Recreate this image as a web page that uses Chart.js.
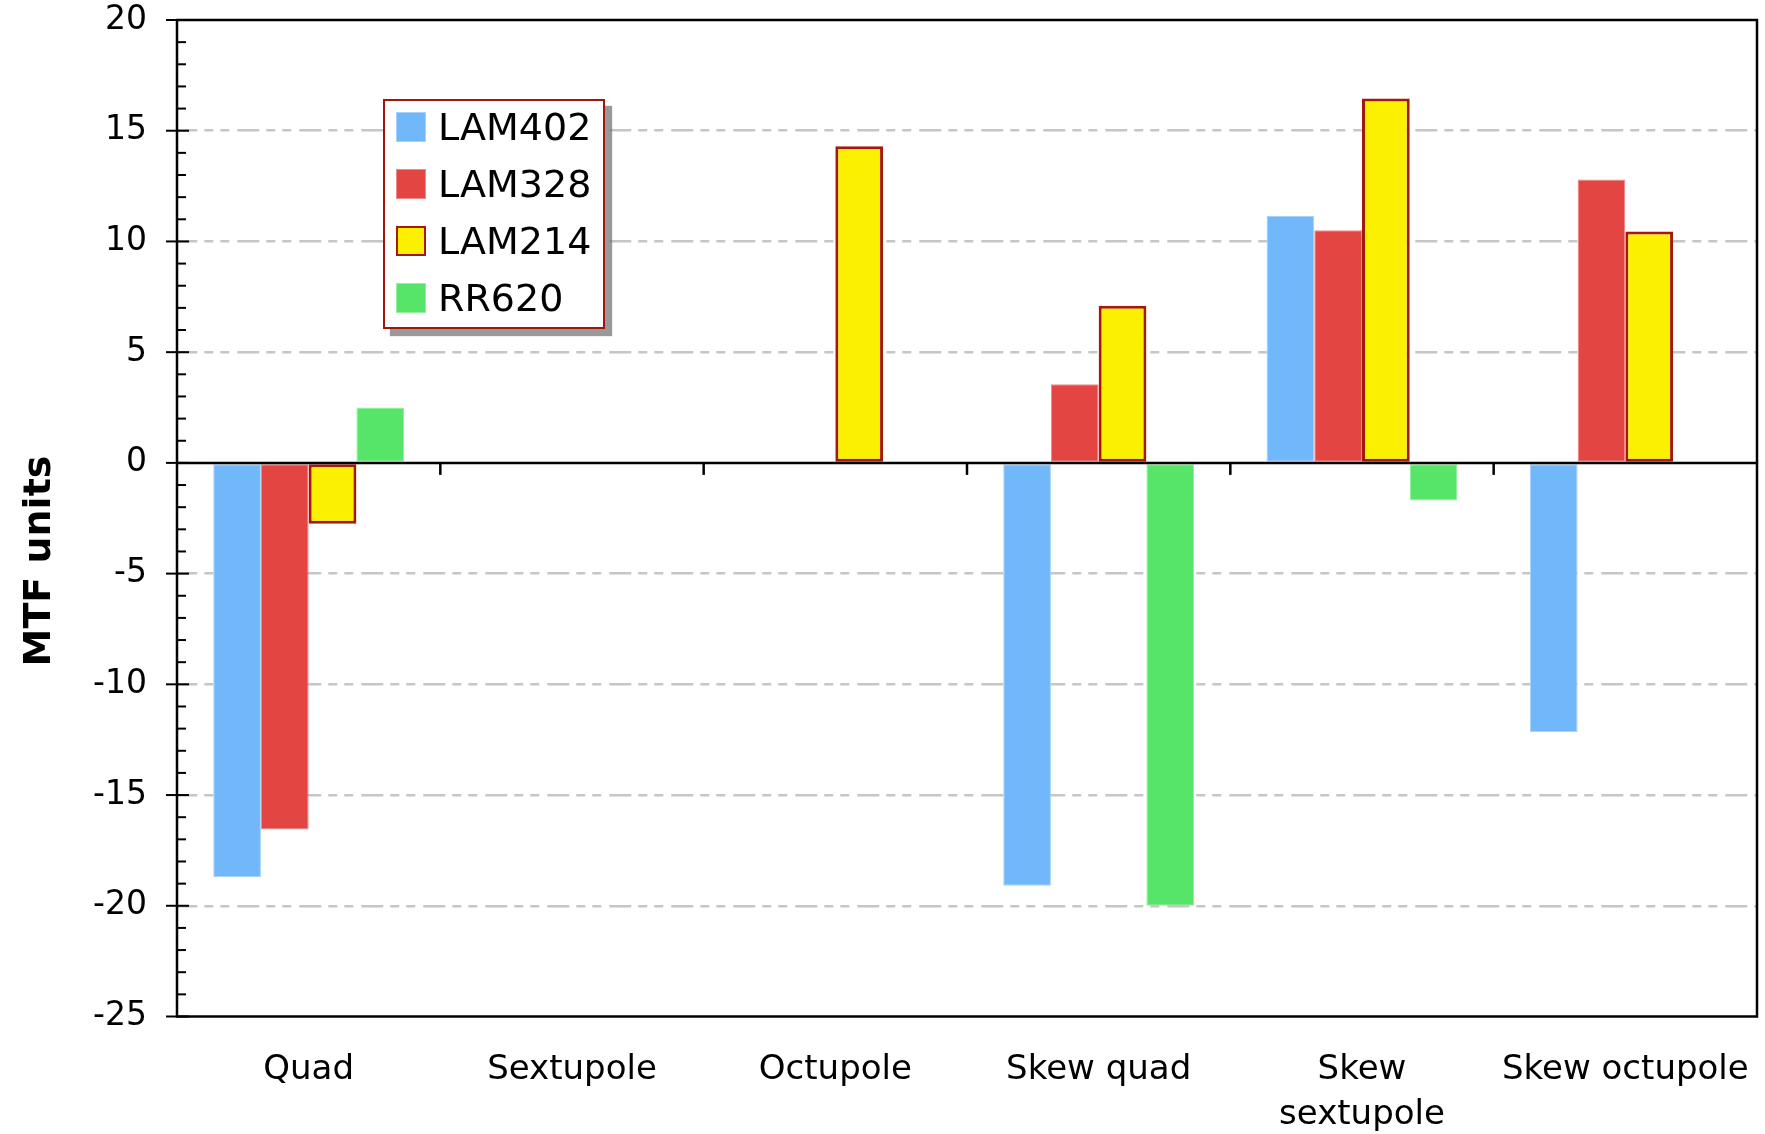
<!DOCTYPE html>
<html><head><meta charset="utf-8">
<script src="https://cdn.jsdelivr.net/npm/chart.js@4.4.1/dist/chart.umd.min.js"></script>
<style>
html,body{margin:0;padding:0;background:#fff;overflow:hidden;}
#wrap{position:relative;width:1765px;height:1134px;}
#legend{position:absolute;left:383px;top:99px;width:222px;height:230px;box-sizing:border-box;border:2.5px solid #a0160c;background:#fff;box-shadow:7px 7px 1px rgba(110,110,110,0.7);font-family:'DejaVu Sans';font-size:38px;color:#000;}
.row{position:absolute;left:11px;height:31px;}
.sw{position:absolute;left:0;top:0;width:30px;height:30px;box-sizing:border-box;}
.lb{position:absolute;left:42px;top:15px;transform:translateY(-50%);white-space:nowrap;line-height:1;}
</style></head>
<body>
<div id="wrap">
<canvas id="c" width="1765" height="1134"></canvas>
<div id="legend"></div>
</div>
<script>
const categories = ['Quad', 'Sextupole', 'Octupole', 'Skew quad', ['Skew', 'sextupole'], 'Skew octupole'];
const seriesNames = ['LAM402', 'LAM328', 'LAM214', 'RR620'];
const lam402 = [-18.7, null, null, -19.1, 11.15, -12.15];
const lam328 = [-16.55, null, null, 3.55, 10.5, 12.8];
const lam214 = [-2.75, null, 14.3, 7.1, 16.45, 10.45];
const rr620  = [2.5, null, null, -20.0, -1.7, null];
const yTicks = [-25, -20, -15, -10, -5, 0, 5, 10, 15, 20];
const yTitle = 'MTF units';

const fills = ['#70b8fa', '#e34642', '#fbf000', '#57e569'];
const edges = ['#a6d2fc', '#ee8a87', '#a5180c', '#93ef9e'];
const edgeW = [1, 1, 3, 1];
const seriesData = [lam402, lam328, lam214, rr620];

Chart.defaults.font.family = "'DejaVu Sans'";
Chart.defaults.color = '#000';

const decor = {
  id: 'decor',
  afterDatasetsDraw(chart) {
    const {ctx, chartArea: a, scales: {x, y}} = chart;
    ctx.save();
    ctx.strokeStyle = '#000';
    ctx.lineWidth = 2.5;
    const y0 = y.getPixelForValue(0);
    ctx.beginPath(); ctx.moveTo(a.left, y0); ctx.lineTo(a.right, y0); ctx.stroke();
    for (let i = 1; i < categories.length; i++) {
      const px = (x.getPixelForValue(i - 1) + x.getPixelForValue(i)) / 2;
      ctx.beginPath(); ctx.moveTo(px, y0); ctx.lineTo(px, y0 + 12); ctx.stroke();
    }
    ctx.strokeRect(a.left, a.top, a.right - a.left, a.bottom - a.top);
    ctx.lineWidth = 2;
    for (let v = y.min; v <= y.max; v++) {
      const py = y.getPixelForValue(v);
      const major = v % 5 === 0;
      ctx.beginPath();
      ctx.moveTo(major ? a.left - 11 : a.left, py);
      ctx.lineTo(a.left + (major ? 12 : 9), py);
      ctx.stroke();
    }
    ctx.translate(50, 561);
    ctx.rotate(-Math.PI / 2);
    ctx.font = "bold 38px 'DejaVu Sans'";
    ctx.fillStyle = '#000';
    ctx.textAlign = 'center';
    ctx.textBaseline = 'alphabetic';
    ctx.fillText(yTitle, 0, 0);
    ctx.restore();
  }
};

function zeroPad(s) { s.paddingTop = 0; s.paddingBottom = 0; s.paddingLeft = 0; s.paddingRight = 0; }

const chart = new Chart(document.getElementById('c'), {
  type: 'bar',
  data: {
    labels: categories,
    datasets: seriesNames.map((n, i) => ({
      label: n,
      data: seriesData[i],
      backgroundColor: fills[i],
      borderColor: edges[i],
      borderWidth: edgeW[i],
      borderSkipped: false,
      categoryPercentage: 0.725,
      barPercentage: 1.0
    }))
  },
  options: {
    responsive: false,
    animation: false,
    devicePixelRatio: 1,
    layout: {padding: {top: 20, right: 8, bottom: 0, left: 0}},
    plugins: {legend: {display: false}, tooltip: {enabled: false}},
    scales: {
      x: {
        grid: {display: false, drawTicks: false},
        border: {display: false},
        ticks: {padding: 31, font: {size: 34, lineHeight: 1.32}, maxRotation: 0, autoSkip: false, color: '#000'},
        afterFit(s) { s.height = 117.5; zeroPad(s); }
      },
      y: {
        min: -25, max: 20,
        afterBuildTicks(s) { s.ticks = yTicks.map(v => ({value: v})); },
        grid: {
          drawTicks: false,
          lineWidth: 2.5,
          color: c => (c.tick && (c.tick.value === 0 || c.tick.value === -25 || c.tick.value === 20)) ? 'rgba(0,0,0,0)' : '#c6c6c6'
        },
        border: {display: false, dash: [22, 7, 9, 7, 9, 8], dashOffset: 1.7},
        ticks: {padding: 30, font: {size: 33}, color: '#000'},
        afterFit(s) { s.width = 177; zeroPad(s); }
      }
    }
  },
  plugins: [decor]
});

const lg = document.getElementById('legend');
const rowTops = [11, 68, 125, 182];
chart.data.datasets.forEach((d, i) => {
  const r = document.createElement('div');
  r.className = 'row';
  r.style.top = rowTops[i] + 'px';
  const s = document.createElement('div');
  s.className = 'sw';
  s.style.background = d.backgroundColor;
  s.style.border = (i === 2 ? '2px solid ' : '1px solid ') + d.borderColor;
  const t = document.createElement('div');
  t.className = 'lb';
  t.textContent = d.label;
  r.appendChild(s); r.appendChild(t);
  lg.appendChild(r);
});
</script>
</body></html>
